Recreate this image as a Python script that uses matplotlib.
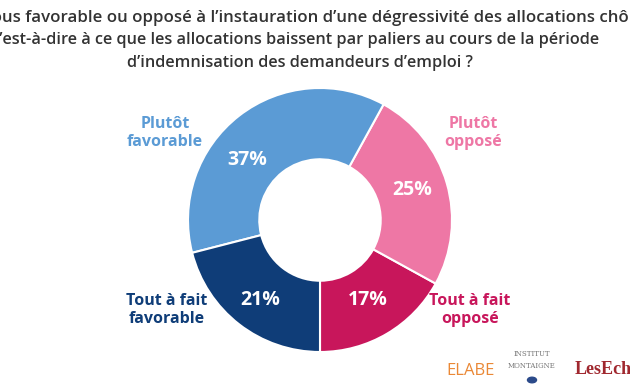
import matplotlib.pyplot as plt

# données (sens anti-horaire depuis le bas)
labels = ['Tout à fait\nopposé', 'Plutôt\nopposé', 'Plutôt\nfavorable', 'Tout à fait\nfavorable']
values = [17, 25, 37, 21]
colors = ['#c8165b', '#ee77a5', '#5b9bd5', '#0f3d78']
text_colors = ['#c8165b', '#ee77a5', '#5b9bd5', '#0f3d78']

title_lines = [
    "Êtes-vous favorable ou opposé à l’instauration d’une dégressivité des allocations chômage,",
    "c’est-à-dire à ce que les allocations baissent par paliers au cours de la période",
    "d’indemnisation des demandeurs d’emploi ?",
]

plt.rcParams['font.family'] = ['Open Sans', 'DejaVu Sans']

W, H = 630, 390
fig = plt.figure(figsize=(W / 100, H / 100), dpi=100)

def px(x, y):
    return x / W, 1 - y / H

# anneau
cx, cy, r = 320, 220, 132
ax = fig.add_axes([(cx - r) / W, (H - cy - r) / H, 2 * r / W, 2 * r / H])
ax.pie(values, colors=colors, startangle=-90, counterclock=True,
       wedgeprops=dict(width=0.54, edgecolor='white', linewidth=1.5))
ax.set_xlim(-1, 1)
ax.set_ylim(-1, 1)
ax.set_aspect('equal')
ax.axis('off')

# titre (coupé sur les bords comme l'original)
renderer = fig.canvas.get_renderer()
def prefix_width(s, size):
    t = fig.text(0, 0, s, fontsize=size, fontweight='semibold')
    w = t.get_window_extent(renderer).width
    t.remove()
    return w

tcol = '#333333'
sizes = [12.2, 11.7, 11.7]
x1 = -8 - prefix_width('Êtes-v', sizes[0])
x2 = -1 - prefix_width('c', sizes[1])
for (x, y, ha), line, s in zip([(x1, 16, 'left'), (x2, 40, 'left'), (300, 63, 'center')],
                               title_lines, sizes):
    fig.text(*px(x, y), line, ha=ha, va='center', fontsize=s,
             fontweight='semibold', color=tcol)

# pourcentages
pct_pos = [(368, 300), (412, 190), (247, 160), (260, 300)]
for v, (x, y) in zip(values, pct_pos):
    fig.text(*px(x, y), f'{v}%', ha='center', va='center', fontsize=14,
             fontweight='bold', color='white')

# libellés
lab_pos = [(470, 310), (473, 133), (165, 133), (167, 310)]
for lab, c, (x, y) in zip(labels, text_colors, lab_pos):
    fig.text(*px(x, y), lab, ha='center', va='center', fontsize=11.5,
             fontweight='bold', color=c, linespacing=1.2)

# logos
fig.text(*px(471, 371), 'ELABE', ha='center', va='center', fontsize=12,
         color='#ea8836')
fig.text(*px(532, 360), 'INSTITUT\nMONTAIGNE', ha='center', va='center', fontsize=5,
         color='#777777', family='DejaVu Serif', linespacing=1.8)
fig.patches.append(plt.Circle(px(532, 380), 4.5 / W, transform=fig.transFigure,
                              color='#2b4a8a'))
fig.text(*px(575, 370), 'LesEchos', ha='left', va='center', fontsize=13,
         color='#a0282f', family='Liberation Serif', fontweight='bold')

fig.savefig('out.png', dpi=100)
